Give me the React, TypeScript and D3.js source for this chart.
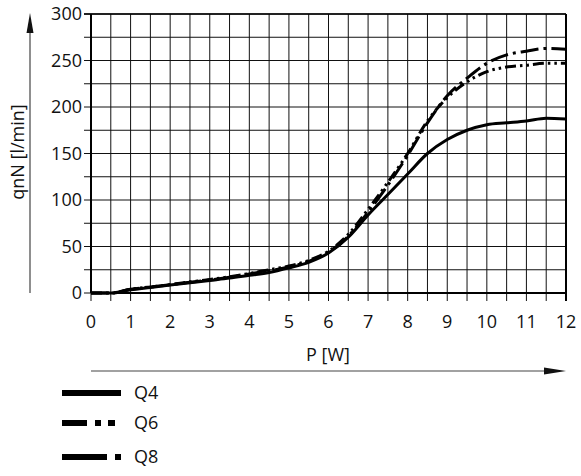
import React from "react";
import * as d3 from "d3";

const powerW = [0, 0.5, 1, 1.5, 2, 2.5, 3, 3.5, 4, 4.5, 5, 5.5, 6, 6.5, 7, 7.5, 8, 8.5, 9, 9.5, 10, 10.5, 11, 11.5, 12];
const q4 = [0, 0, 3.5, 6, 8.5, 11, 13.5, 16, 19, 22, 27, 33, 43, 60, 84, 106, 128, 150, 165, 175, 181, 183, 185, 188, 187];
const q6 = [0, 0, 4, 6.5, 9, 12, 14.5, 17.5, 21, 25, 29, 35, 45, 63, 90, 119, 150, 185, 210, 227, 238, 243, 245, 247, 247];
const q8 = [0, 0, 4, 6.5, 9, 11.5, 14, 17, 20.5, 24, 28, 34, 44, 61, 87, 116, 148, 183, 212, 231, 247, 256, 260, 263, 262];

const xTicks = [0, 1, 2, 3, 4, 5, 6, 7, 8, 9, 10, 11, 12];
const yTicks = [0, 50, 100, 150, 200, 250, 300];
const seriesNames = ["Q4", "Q6", "Q8"];

const FONT = "'Open Sans', sans-serif";

export default function App() {
  const W = 581, H = 476;
  const x = d3.scaleLinear().domain([0, 12]).range([91, 566]);
  const y = d3.scaleLinear().domain([0, 300]).range([293, 14]);

  const vGrid = d3.range(0, 12.01, 0.5);
  const hGrid = d3.range(0, 300.1, 25);

  const line = d3
    .line<number>()
    .x((_, i) => x(powerW[i]))
    .y((d) => y(d))
    .curve(d3.curveMonotoneX);

  const series = [
    { name: seriesNames[0], values: q4, dash: "none", legendDash: "none" },
    { name: seriesNames[1], values: q6, dash: "11 4 2.5 4 2.5 4", legendDash: "25 8 6 7 7 100" },
    { name: seriesNames[2], values: q8, dash: "18 5 3 5", legendDash: "45 8 6 100" },
  ];
  const legendY = [393, 423, 457];

  return (
    <svg width={W} height={H} style={{ position: "absolute", left: 0, top: 0, background: "#fff" }} fontFamily={FONT}>
      {/* grid */}
      {vGrid.map((v) => (
        <line key={"v" + v} x1={x(v)} x2={x(v)} y1={y(300)} y2={y(0) + 8} stroke="#111" strokeWidth={1} />
      ))}
      {hGrid.map((v) => (
        <line key={"h" + v} x1={x(0) - 7} x2={x(12)} y1={y(v)} y2={y(v)} stroke="#111" strokeWidth={1} />
      ))}
      {/* frame */}
      <line x1={x(0)} x2={x(0)} y1={y(300)} y2={y(0)} stroke="#000" strokeWidth={2} />
      <line x1={x(0)} x2={x(12)} y1={y(0)} y2={y(0)} stroke="#000" strokeWidth={2} />
      <line x1={x(12)} x2={x(12)} y1={y(300)} y2={y(0) + 8} stroke="#000" strokeWidth={2} />
      <line x1={x(0) - 7} x2={x(12)} y1={y(300)} y2={y(300)} stroke="#000" strokeWidth={1.5} />

      {/* curves */}
      {series.map((s) => (
        <path key={s.name} d={line(s.values) || ""} fill="none" stroke="#000" strokeWidth={3} strokeDasharray={s.dash} />
      ))}

      {/* y tick labels */}
      {yTicks.map((t) => (
        <text key={"yt" + t} x={82} y={y(t)} dy="0.35em" textAnchor="end" fontSize={18} fill="#111">
          {t}
        </text>
      ))}
      {/* x tick labels */}
      {xTicks.map((t) => (
        <text key={"xt" + t} x={x(t)} y={328} textAnchor="middle" fontSize={18} fill="#111">
          {t}
        </text>
      ))}

      {/* y axis title and arrow */}
      <text transform={`translate(24,152) rotate(-90)`} textAnchor="middle" fontSize={18} fill="#111">
        qnN [l/min]
      </text>
      <line x1={30} x2={30} y1={293} y2={30} stroke="#444" strokeWidth={1.2} />
      <path d="M30,13 L26.5,33 L33.5,33 Z" fill="#111" />

      {/* x axis title and arrow */}
      <text x={328} y={361} textAnchor="middle" fontSize={18} fill="#111">
        P [W]
      </text>
      <line x1={91} x2={548} y1={371} y2={371} stroke="#444" strokeWidth={1.2} />
      <path d="M566,371 L544,367.5 L544,374.5 Z" fill="#111" />

      {/* legend */}
      {series.map((s, i) => (
        <g key={"lg" + s.name}>
          <line x1={62} x2={121} y1={legendY[i]} y2={legendY[i]} stroke="#000" strokeWidth={6} strokeDasharray={s.legendDash} />
          <text x={134} y={legendY[i]} dy="0.35em" fontSize={18} fill="#111">
            {s.name}
          </text>
        </g>
      ))}
    </svg>
  );
}
